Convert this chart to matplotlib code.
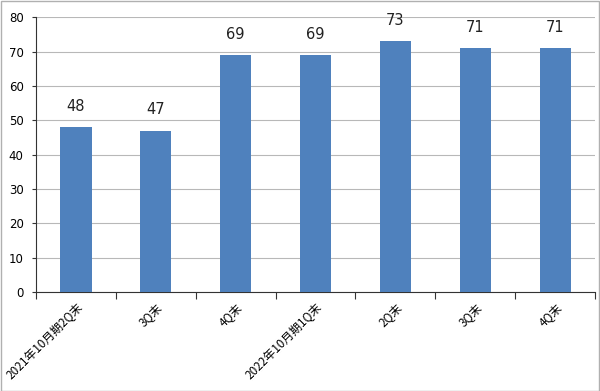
import matplotlib.pyplot as plt
import numpy as np

plt.rcParams['font.family'] = ['DejaVu Sans', 'Noto Sans CJK JP']

categories = ['2021年10月期2Q末', '3Q末', '4Q末', '2022年10月期1Q末', '2Q末', '3Q末', '4Q末']
values = [48, 47, 69, 69, 73, 71, 71]
yticks = [0, 10, 20, 30, 40, 50, 60, 70, 80]

fig = plt.figure(figsize=(6, 3.91), dpi=100)
ax = fig.add_axes([0.06, 0.2532, 0.9317, 0.7023])

x = np.arange(len(categories))
ax.bar(x, values, width=0.39, color='#4F81BD', zorder=3)

# value labels a fixed distance above each bar
for xi, v in zip(x, values):
    ax.annotate(str(v), (xi, v), xytext=(0, 9.5), textcoords='offset points',
                ha='center', va='bottom', fontsize=10.5, color='#222222')

ax.set_xlim(-0.5, len(categories) - 0.5)
ax.set_ylim(0, 80)
ax.set_yticks(yticks)
ax.tick_params(axis='y', labelsize=8.5, length=3, direction='out', color='#333333', pad=6)
ax.yaxis.grid(True, color='#B8B8B8', linewidth=0.8, zorder=0)

# category boundary ticks, labels centred on bars
ax.set_xticks(np.arange(-0.5, len(categories)), minor=False)
ax.set_xticklabels([])
ax.set_xticks(x, minor=True)
ax.set_xticklabels(categories, minor=True, rotation=45, ha='right', rotation_mode='anchor',
                   fontsize=8.5, family=['Noto Sans CJK JP', 'DejaVu Sans'])
ax.tick_params(axis='x', which='major', length=5, direction='out', color='#333333')
ax.tick_params(axis='x', which='minor', length=0, pad=6)

for s in ['top', 'right']:
    ax.spines[s].set_visible(False)
ax.spines['left'].set_color('#333333')
ax.spines['bottom'].set_color('#333333')

fig.patches.append(plt.Rectangle((0.001, 0.001), 0.997, 0.997, transform=fig.transFigure,
                                 fill=False, edgecolor='#B0B0B0', linewidth=1))

fig.savefig('out.png', dpi=100)
